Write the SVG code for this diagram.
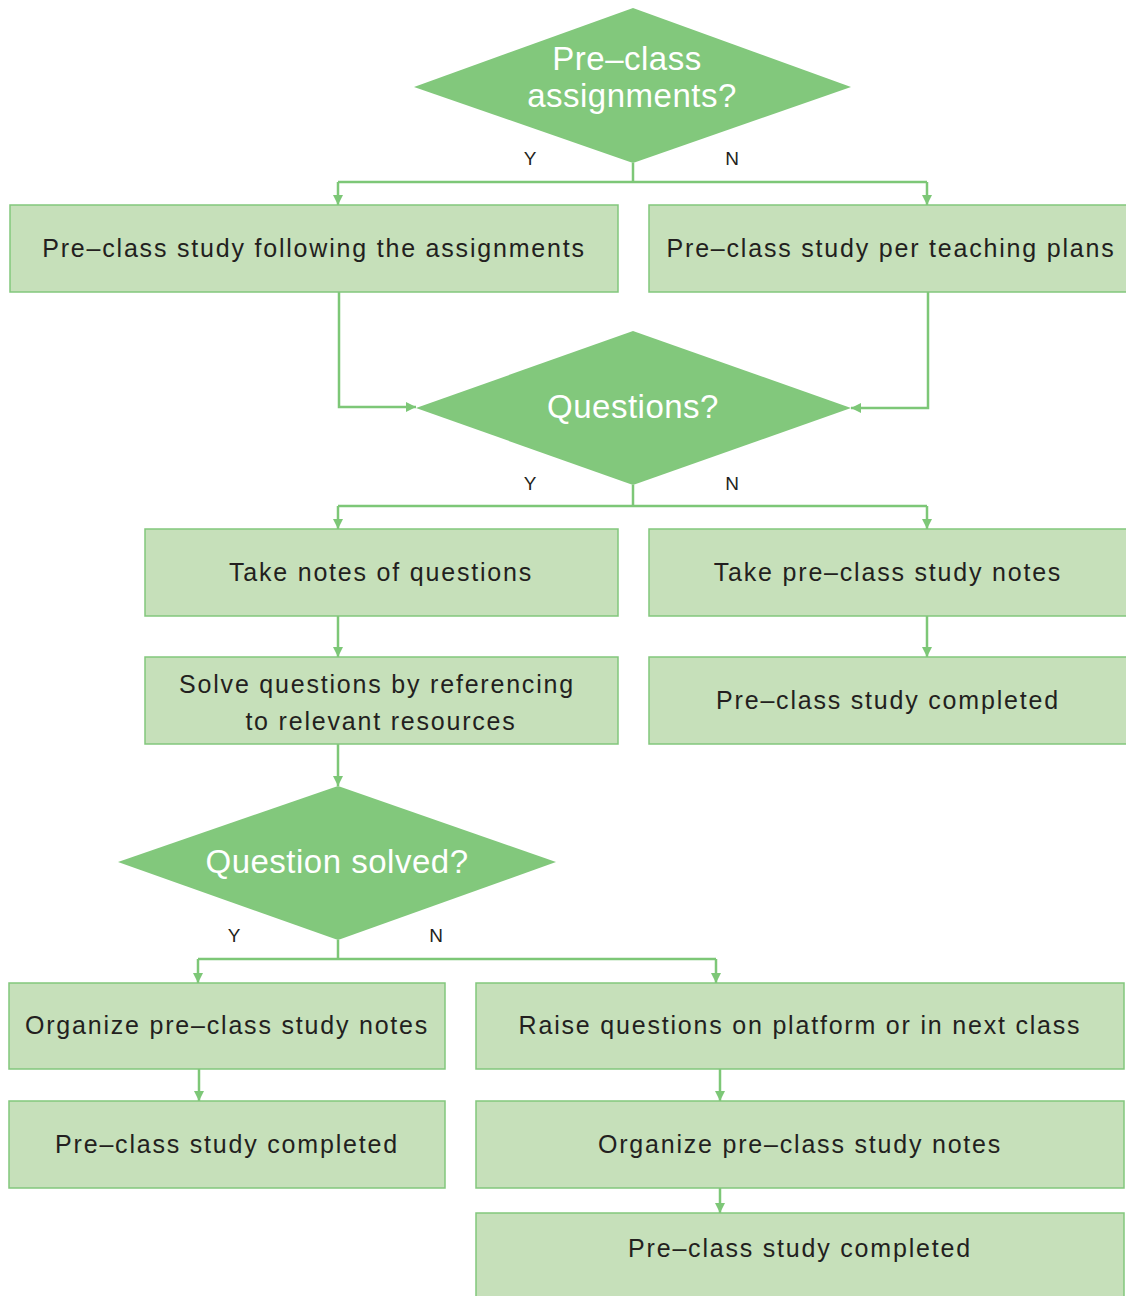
<svg xmlns="http://www.w3.org/2000/svg" width="1126" height="1296" viewBox="0 0 1126 1296">
<defs>
<style>
.box{fill:#c6e0ba;stroke:#82c77c;stroke-width:1.5}
.dia{fill:#82c87c}
.bt{font-family:"Liberation Sans",Arial,sans-serif;font-size:25px;letter-spacing:1.8px;fill:#231f20;text-anchor:middle;dominant-baseline:central}
.dt{font-family:"Liberation Sans",Arial,sans-serif;font-size:33px;letter-spacing:0.5px;fill:#ffffff;text-anchor:middle;dominant-baseline:central}
.yn{font-family:"Liberation Sans",Arial,sans-serif;font-size:19px;fill:#231f20;text-anchor:middle;dominant-baseline:central}
.ln{fill:none;stroke:#7dc777;stroke-width:2.5}
</style>
<marker id="ah" viewBox="0 0 10 10" refX="10" refY="5" markerWidth="4" markerHeight="4" orient="auto" markerUnits="strokeWidth">
<path d="M0,0 L10,5 L0,10 z" fill="#7dc777"/>
</marker>
</defs>
<rect width="1126" height="1296" fill="#ffffff"/>
<g id="connectors">
<path class="ln" d="M633,163 V182"/>
<path class="ln" d="M338,182 H927"/>
<path class="ln" d="M338,182 V205" marker-end="url(#ah)"/>
<path class="ln" d="M927,182 V205" marker-end="url(#ah)"/>
<path class="ln" d="M339,292 V407 H416" marker-end="url(#ah)"/>
<path class="ln" d="M928,292 V408 H851" marker-end="url(#ah)"/>
<path class="ln" d="M633,485 V506"/>
<path class="ln" d="M338,506 H927"/>
<path class="ln" d="M338,506 V529" marker-end="url(#ah)"/>
<path class="ln" d="M927,506 V529" marker-end="url(#ah)"/>
<path class="ln" d="M338,616 V657" marker-end="url(#ah)"/>
<path class="ln" d="M927,616 V657" marker-end="url(#ah)"/>
<path class="ln" d="M338,744 V786" marker-end="url(#ah)"/>
<path class="ln" d="M338,940 V959"/>
<path class="ln" d="M198,959 H716"/>
<path class="ln" d="M198,959 V983" marker-end="url(#ah)"/>
<path class="ln" d="M716,959 V983" marker-end="url(#ah)"/>
<path class="ln" d="M199,1069 V1101" marker-end="url(#ah)"/>
<path class="ln" d="M720,1069 V1101" marker-end="url(#ah)"/>
<path class="ln" d="M720,1188 V1213" marker-end="url(#ah)"/>
<text class="yn" x="530" y="158">Y</text>
<text class="yn" x="732" y="158">N</text>
<text class="yn" x="530" y="483">Y</text>
<text class="yn" x="732" y="483">N</text>
<text class="yn" x="234" y="935">Y</text>
<text class="yn" x="436" y="935">N</text>
</g>
<g id="d1">
<polygon class="dia" points="633,8 851,87 633,163 414,87"/>
<text class="dt" x="627" y="58">Pre–class</text>
<text class="dt" x="632" y="95">assignments?</text>
</g>
<g id="b1">
<rect class="box" x="10" y="205" width="608" height="87"/>
<text class="bt" x="314" y="248">Pre–class study following the assignments</text>
</g>
<g id="b2">
<rect class="box" x="649" y="205" width="480" height="87"/>
<text class="bt" x="891" y="248">Pre–class study per teaching plans</text>
</g>
<g id="d2">
<polygon class="dia" points="633,331 851,408 633,485 416,408"/>
<text class="dt" x="633" y="406">Questions?</text>
</g>
<g id="b3">
<rect class="box" x="145" y="529" width="473" height="87"/>
<text class="bt" x="381" y="572">Take notes of questions</text>
</g>
<g id="b4">
<rect class="box" x="649" y="529" width="480" height="87"/>
<text class="bt" x="888" y="572">Take pre–class study notes</text>
</g>
<g id="b5">
<rect class="box" x="145" y="657" width="473" height="87"/>
<text class="bt" x="377" y="684">Solve questions by referencing</text>
<text class="bt" x="381" y="721">to relevant resources</text>
</g>
<g id="b6">
<rect class="box" x="649" y="657" width="480" height="87"/>
<text class="bt" x="888" y="700">Pre–class study completed</text>
</g>
<g id="d3">
<polygon class="dia" points="338,786 556,862 338,940 118,862"/>
<text class="dt" x="337" y="861">Question solved?</text>
</g>
<g id="b7">
<rect class="box" x="9" y="983" width="436" height="86"/>
<text class="bt" x="227" y="1025">Organize pre–class study notes</text>
</g>
<g id="b8">
<rect class="box" x="476" y="983" width="648" height="86"/>
<text class="bt" x="800" y="1025">Raise questions on platform or in next class</text>
</g>
<g id="b9">
<rect class="box" x="9" y="1101" width="436" height="87"/>
<text class="bt" x="227" y="1144">Pre–class study completed</text>
</g>
<g id="b10">
<rect class="box" x="476" y="1101" width="648" height="87"/>
<text class="bt" x="800" y="1144">Organize pre–class study notes</text>
</g>
<g id="b11">
<rect class="box" x="476" y="1213" width="648" height="100"/>
<text class="bt" x="800" y="1248">Pre–class study completed</text>
</g>
</svg>
